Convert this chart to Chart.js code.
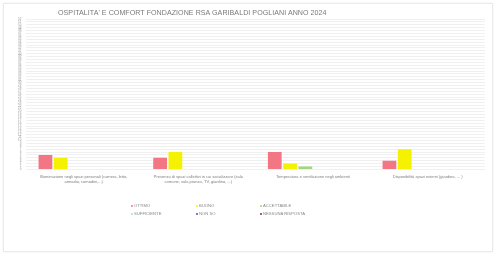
<!DOCTYPE html>
<html>
<head>
<meta charset="utf-8">
<script src="https://cdn.jsdelivr.net/npm/chart.js@4/dist/chart.umd.min.js"></script>
<style>
  html, body { margin: 0; padding: 0; background: #fff; width: 495px; height: 255px; overflow: hidden; font-family: "Liberation Sans", Arial, sans-serif; }
  #frame { position: absolute; left: 3px; top: 3px; width: 488px; height: 247px; border: 1px solid #ebebeb; box-shadow: 0 0 2px rgba(0,0,0,0.08); }
  #title { position: absolute; left: 58px; top: 9px; font-size: 7.1px; color: #7a7a7a; white-space: nowrap; letter-spacing: 0.05px; }
  #c { position: absolute; left: 0; top: 0; }
  .lg { position: absolute; font-size: 4.2px; color: #888; white-space: nowrap; line-height: 5px; }
  .lg i { display: inline-block; width: 2px; height: 2px; border-radius: 1px; margin-right: 1px; vertical-align: middle; }
</style>
</head>
<body>
<div id="frame"></div>
<canvas id="c" width="495" height="255"></canvas>
<div id="title">OSPITALITA' E COMFORT FONDAZIONE RSA GARIBALDI POGLIANI ANNO 2024</div>
<div id="legend"></div>
<script>
const categories = [
  ["Illuminazione negli spazi personali (camera, letto,", "armadio, comodini,...)"],
  ["Presenza di spazi collettivi in cui socializzare (sala", "comune, sala pranzo, TV, giardino, ...)"],
  ["Temperatura e ventilazione negli ambienti"],
  ["Disponibilità spazi esterni (giardino, ... )"]
];
const seriesNames = ["OTTIMO", "BUONO", "ACCETTABILE", "SUFFICIENTE", "NON SO", "NESSUNA RISPOSTA"];
const ottimo = [5, 4, 6, 3];
const buono = [4, 6, 2, 7];
const accettabile = [0, 0, 1, 0];
const sufficiente = [0, 0, 0, 0];
const nonSo = [0, 0, 0, 0];
const nessunaRisposta = [0, 0, 0, 0];
const yMin = 0;
const yMax = 52;
const yStep = 1;

const seriesValues = [ottimo, buono, accettabile, sufficiente, nonSo, nessunaRisposta];
const colors = ["#f37684", "#f4f200", "#9fd67e", "#9fd8f0", "#4a4ad0", "#8a2050"];

new Chart(document.getElementById("c"), {
  type: "bar",
  data: {
    labels: categories,
    datasets: seriesNames.map((n, i) => ({
      label: n,
      data: seriesValues[i],
      backgroundColor: colors[i],
      borderWidth: 0
    }))
  },
  options: {
    responsive: false,
    animation: false,
    layout: { padding: { left: 13, right: 10, top: 19, bottom: 66 } },
    plugins: { legend: { display: false }, title: { display: false }, tooltip: { enabled: false } },
    scales: {
      x: {
        grid: { display: false, drawTicks: false },
        border: { display: false },
        ticks: { font: { size: 4, family: "Liberation Sans" }, color: "#808080", maxRotation: 0, autoSkip: false, padding: 5 }
      },
      y: {
        min: yMin, max: yMax,
        grid: { color: "#f0f0f0", lineWidth: 1, drawTicks: false },
        border: { display: false },
        ticks: { stepSize: yStep, autoSkip: false, font: { size: 3, family: "Liberation Sans" }, color: "#999", padding: 5 }
      }
    }
  }
});

// legend as real text
const legend = document.getElementById("legend");
const colX = [131, 196, 260];
const rowY = [203, 211];
seriesNames.forEach((n, i) => {
  const d = document.createElement("div");
  d.className = "lg";
  d.style.left = colX[i % 3] + "px";
  d.style.top = rowY[Math.floor(i / 3)] + "px";
  d.innerHTML = '<i style="background:' + colors[i] + '"></i>' + n;
  legend.appendChild(d);
});
</script>
</body>
</html>
